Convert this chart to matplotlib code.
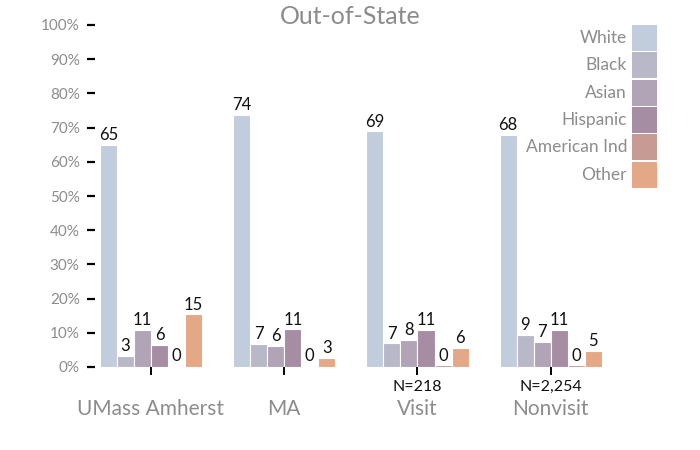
import matplotlib.pyplot as plt
import numpy as np
from matplotlib.patches import Rectangle

plt.rcParams['font.family'] = ['Lato', 'DejaVu Sans']

# groups on the x axis and the race categories
groups = ['UMass Amherst', 'MA', 'Visit', 'Nonvisit']
n_labels = ['', '', 'N=218', 'N=2,254']
races = ['White', 'Black', 'Asian', 'Hispanic', 'American Ind', 'Other']
colors = ['#c1ccdc', '#b9b8c9', '#b1a4b6', '#a68da3', '#c59b94', '#e4a886']

# percent values per race for each group
white = [64.9, 73.7, 68.9, 67.9]
black = [3.2, 6.8, 6.9, 9.3]
asian = [10.8, 6.1, 7.9, 7.4]
hispanic = [6.4, 11.0, 10.8, 10.8]
amind = [0.3, 0.4, 0.45, 0.45]
other = [15.4, 2.7, 5.6, 4.7]
values = [white, black, asian, hispanic, amind, other]

fig = plt.figure(figsize=(7, 4.5), dpi=100)
ax = fig.add_axes([95 / 700, 83 / 450, 565 / 700, 342 / 450])

x = np.arange(len(groups))
w = 0.128
for i, (race, vals) in enumerate(zip(races, values)):
    pos = x + (i - 2.5) * w
    ax.bar(pos, vals, w, color=colors[i], edgecolor='white', linewidth=0.8)
    for p, v in zip(pos, vals):
        ax.text(p, v + 0.5, f'{round(v):d}', ha='center', va='bottom',
                fontsize=12, color='#111111')

ax.set_xlim(-0.42, 3.82)
ax.set_ylim(0, 100)
for s in ax.spines.values():
    s.set_visible(False)

yt = np.arange(0, 101, 10)
ax.set_yticks(yt)
ax.set_yticklabels([f'{v}%' for v in yt], color='#8c8c8c', fontsize=11)
ax.tick_params(axis='y', length=6, width=1.6, color='black', pad=5)

ax.set_xticks(x)
ax.set_xticklabels(groups, color='#8c8c8c', fontsize=15)
ax.tick_params(axis='x', length=6, width=1.4, color='black', pad=17)

for xi, lab in zip(x, n_labels):
    if lab:
        ax.annotate(lab, (xi, 0), xycoords=('data', 'axes fraction'),
                    xytext=(0, -14.5), textcoords='offset points',
                    ha='center', va='center', fontsize=11.5, color='#111111')

fig.text(350 / 700, 1 - 17 / 450, 'Out-of-State', ha='center', va='center',
         fontsize=18, color='#8c8c8c')

# legend: boxes on the right, labels right-aligned to their left
for i, race in enumerate(races):
    top = 25 + i * 27.3
    fig.patches.append(Rectangle((632 / 700, 1 - (top + 26) / 450), 25 / 700, 26 / 450,
                                 transform=fig.transFigure, facecolor=colors[i],
                                 edgecolor='none'))
    fig.text(627 / 700, 1 - (top + 13) / 450, race, ha='right', va='center',
             fontsize=12.5, color='#8c8c8c')

fig.savefig('out.png', dpi=100)
